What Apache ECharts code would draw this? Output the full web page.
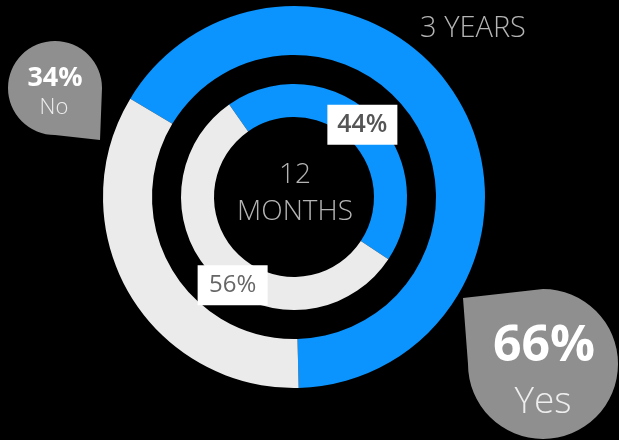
<!DOCTYPE html>
<html>
<head>
<meta charset="utf-8">
<script src="https://cdn.jsdelivr.net/npm/echarts@6/dist/echarts.min.js"></script>
<style>
  html, body { margin: 0; padding: 0; background: #000; }
  #chart { width: 619px; height: 440px; }
</style>
</head>
<body>
<div id="chart"></div>
<script>
// Survey answers, share of respondents (%)
const answers = ['Yes', 'No'];
const threeYears = [66, 34];
const twelveMonths = [44, 56];
const periodLabels = ['3 YEARS', '12 MONTHS'];

const FONT = '"Open Sans", "Noto Sans", sans-serif';
const BLUE = '#0b94fd';
const LIGHT = '#ebebeb';
const BUBBLE = '#8f8f8f';
const colors = [BLUE, LIGHT];

// Teardrop callout: three quarters of a circle plus one pointed corner
const Teardrop = echarts.graphic.extendShape({
  shape: { cx: 0, cy: 0, r: 0, tipX: 0, tipY: 0, corner: 'br' },
  buildPath(ctx, s) {
    ctx.moveTo(s.tipX, s.tipY);
    if (s.corner === 'br') {
      ctx.lineTo(s.cx, s.cy + s.r);
      ctx.arc(s.cx, s.cy, s.r, Math.PI / 2, Math.PI * 2, false);
    } else {
      ctx.lineTo(s.cx, s.cy - s.r);
      ctx.arc(s.cx, s.cy, s.r, -Math.PI / 2, Math.PI, false);
    }
    ctx.closePath();
  }
});
echarts.graphic.registerShape('teardrop', Teardrop);

const chart = echarts.init(document.getElementById('chart'), null, { renderer: 'canvas' });

const toData = (vals) => vals.map((v, i) => ({
  name: answers[i],
  value: v,
  itemStyle: { color: colors[i] }
}));

const innerLabelBase = {
  show: true,
  position: 'inside',
  formatter: '{c}%',
  backgroundColor: '#fff',
  fontFamily: FONT,
  fontSize: 24,
  color: '#555',
  width: 52,
  height: 26,
  lineHeight: 26,
  align: 'center',
  padding: [7, 9]
};

const innerData = toData(twelveMonths);
innerData[0].label = Object.assign({}, innerLabelBase, { fontWeight: 600, fontSize: 25, color: '#555', offset: [-1, -1] });
innerData[1].label = Object.assign({}, innerLabelBase, { fontWeight: 400, color: '#666', offset: [8, 17] });

const centeredText = (x, y, text, fill, font, extra) => ({
  type: 'text',
  x: x, y: y,
  style: Object.assign({
    text: text, fill: fill, font: font,
    align: 'center', verticalAlign: 'middle'
  }, extra || {})
});

const option = {
  backgroundColor: '#000',
  animation: false,
  series: [
    {
      type: 'pie',
      name: periodLabels[0],
      center: [294, 197],
      radius: [142, 191],
      startAngle: 149,
      clockwise: true,
      silent: true,
      label: { show: false },
      labelLine: { show: false },
      data: toData(threeYears)
    },
    {
      type: 'pie',
      name: periodLabels[1],
      center: [294, 197],
      radius: [80, 113],
      startAngle: 125,
      clockwise: true,
      silent: true,
      labelLine: { show: false },
      data: innerData
    }
  ],
  graphic: [
    {
      type: 'teardrop',
      shape: { cx: 55, cy: 88, r: 47, tipX: 100, tipY: 140, corner: 'br' },
      style: { fill: BUBBLE }
    },
    centeredText(55, 78, threeYears[1] + '%', '#fff', `700 27px ${FONT}`),
    centeredText(54, 108, answers[1], '#eee', `300 22px ${FONT}`),
    {
      type: 'teardrop',
      shape: { cx: 543, cy: 364, r: 75, tipX: 463, tipY: 298, corner: 'tl' },
      style: { fill: BUBBLE }
    },
    centeredText(544, 347, threeYears[0] + '%', '#fff', `700 50px ${FONT}`),
    centeredText(543, 402, answers[0], '#eee', `300 37px ${FONT}`),
    centeredText(473, 29, periodLabels[0], '#b4b4b4', `300 29px ${FONT}`),
    centeredText(295, 194, periodLabels[1].replace(' ', '\n'), '#b4b4b4', `300 28px ${FONT}`, { lineHeight: 37 })
  ]
};

chart.setOption(option);
</script>
</body>
</html>
